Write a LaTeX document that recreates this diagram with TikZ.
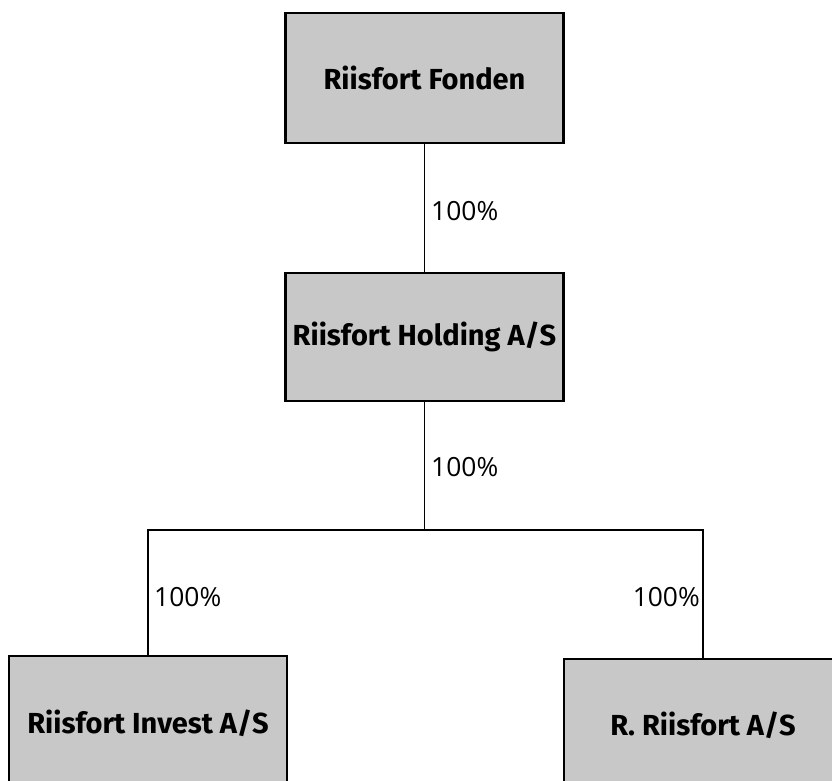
\documentclass[tikz,border=0pt]{standalone}
\usepackage{fontspec}
\setmainfont{Open Sans}
\newfontfamily\boxfont{Fira Sans}
\definecolor{boxgray}{RGB}{200,200,200}
\begin{document}
\begin{tikzpicture}[x=1pt,y=-1pt,
  entity/.style={draw=black, line width=2.4pt, fill=boxgray, inner sep=0pt,
    minimum width=278pt, font=\boxfont\bfseries\fontsize{29}{34}\selectfont},
  share/.style={font=\fontsize{26.4}{30}\selectfont, inner sep=0pt},
  link/.style={draw=black, line width=1.3pt}]
\useasboundingbox (0,0) rectangle (832,780);
\fill[white] (0,0) rectangle (832,780);
\node[entity, minimum height=130pt] (fonden) at (424.5,78) {Riisfort Fonden};
\node[entity, minimum height=128pt] (holding) at (424.5,337) {Riisfort Holding A/S};
\node[entity, minimum height=134pt] (invest) at (148,723) {Riisfort Invest A/S};
\node[entity, minimum height=132pt] (rr) at (703,725) {R. Riisfort A/S};
\coordinate (j) at (424.5,530);
\draw[link] (fonden.south) -- (holding.north);
\draw[link] (holding.south) -- (j);
\draw[link] (j) -| (invest.north);
\draw[link] (j) -| (rr.north);
\node[share, anchor=west] (l1) at (431,211) {100\%};
\node[share, anchor=west] (l2) at (431,467) {100\%};
\node[share, anchor=west] (l3) at (154,597) {100\%};
\node[share, anchor=east] (l4) at (700,597) {100\%};
\end{tikzpicture}
\end{document}
